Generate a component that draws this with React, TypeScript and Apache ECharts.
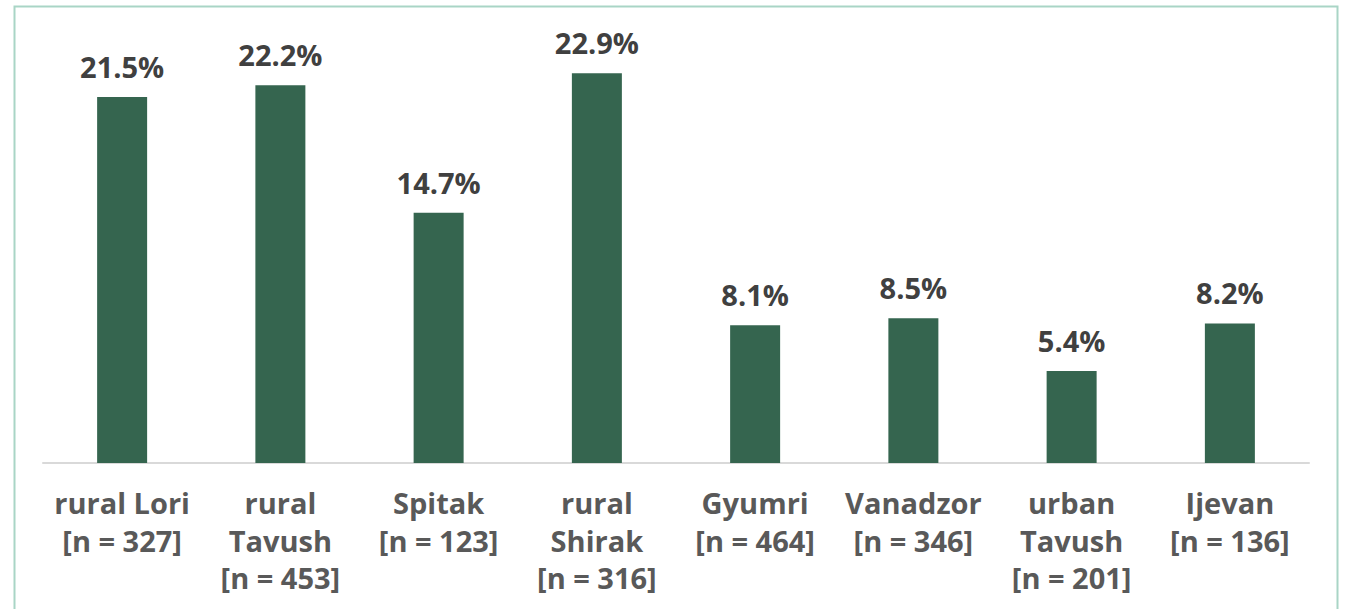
import React, { useEffect, useRef } from "react";
import * as echarts from "echarts";

const regions = ["rural Lori", "rural\nTavush", "Spitak", "rural\nShirak", "Gyumri", "Vanadzor", "urban\nTavush", "Ijevan"];
const sampleSizes = [327, 453, 123, 316, 464, 346, 201, 136];
const shares = [21.5, 22.2, 14.7, 22.9, 8.1, 8.5, 5.4, 8.2];

const categories = regions.map((r, i) => `${r}\n[n = ${sampleSizes[i]}]`);

export default function App() {
  const ref = useRef<HTMLDivElement>(null);
  useEffect(() => {
    const chart = echarts.init(ref.current!, null, { renderer: "svg" });
    chart.setOption({
      animation: false,
      backgroundColor: "#ffffff",
      graphic: [
        {
          type: "rect",
          shape: { x: 14.5, y: 6.5, width: 1323, height: 640 },
          style: { fill: "none", stroke: "#A9D5C6", lineWidth: 2 },
          silent: true,
        },
      ],
      grid: { left: 43, width: 1266, top: 37.5, height: 425.5, containLabel: false },
      xAxis: {
        type: "category",
        data: categories,
        axisLine: { lineStyle: { color: "#D9D9D9", width: 2 } },
        axisTick: { show: false },
        axisLabel: {
          interval: 0,
          margin: 21,
          color: "#595959",
          fontFamily: "Open Sans",
          fontWeight: "bold",
          fontSize: 29,
          lineHeight: 37.5,
          align: "center",
        },
      },
      yAxis: {
        type: "value",
        min: 0,
        max: 25,
        show: false,
        splitLine: { show: false },
      },
      series: [
        {
          type: "bar",
          data: shares,
          barWidth: 50,
          itemStyle: { color: "#35654F" },
          label: {
            show: true,
            position: "top",
            distance: 16,
            formatter: (p: any) => `${p.value.toFixed(1)}%`,
            color: "#404040",
            fontFamily: "Open Sans",
            fontWeight: "bold",
            fontSize: 29,
          },
        },
      ],
    });
    return () => chart.dispose();
  }, []);
  return (
    <div
      ref={ref}
      style={{ position: "absolute", left: 0, top: 0, width: 1347, height: 609 }}
    />
  );
}
